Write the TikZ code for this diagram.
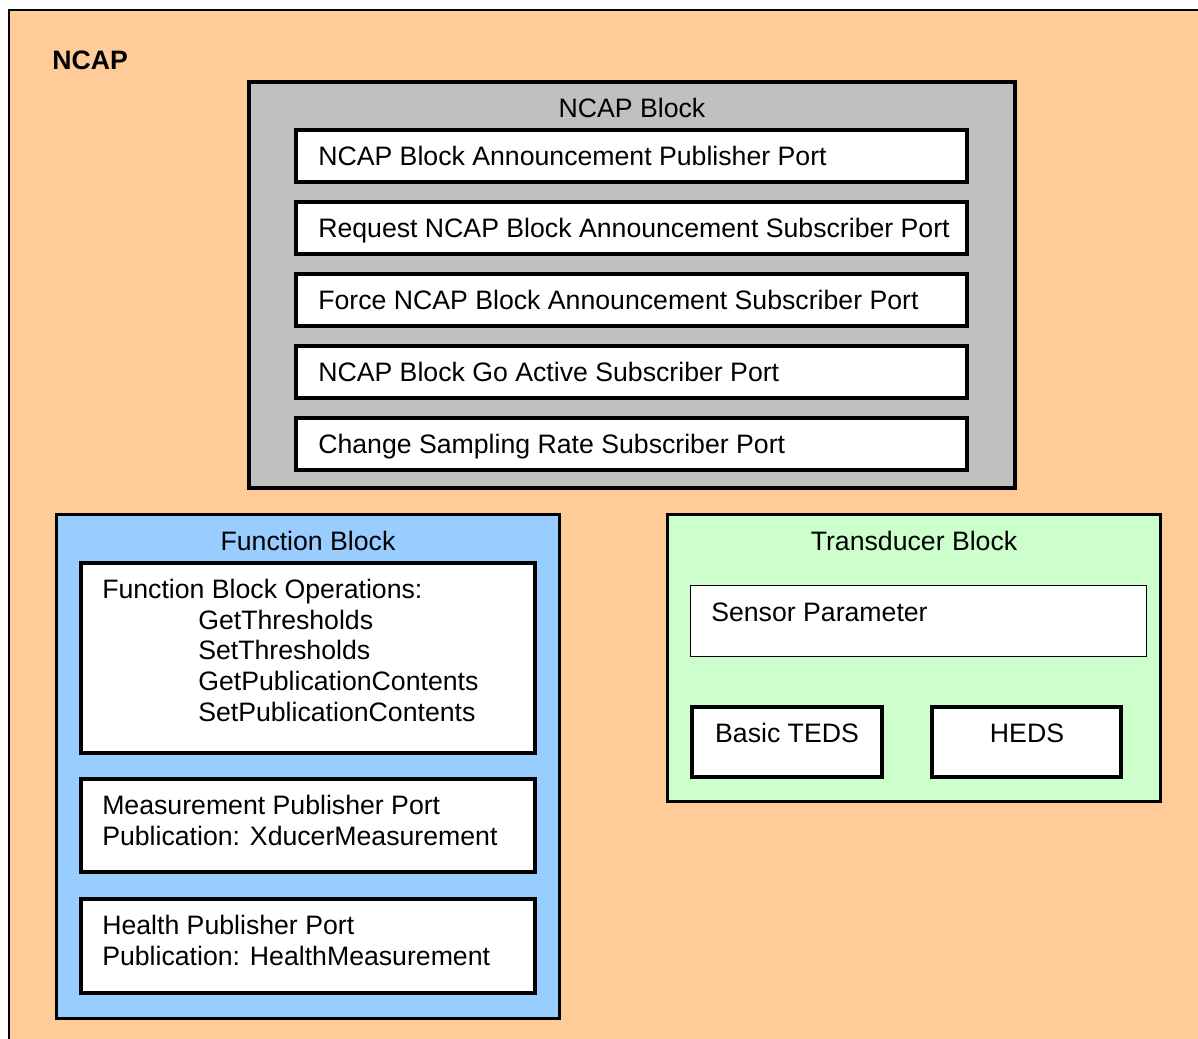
\documentclass[tikz,border=0pt]{standalone}
\usepackage{fontspec}
\setmainfont{Liberation Sans}
\usepackage{xcolor}
\usepackage{tikz}
\usetikzlibrary{positioning}

\definecolor{ncapfill}{HTML}{FFCC99}
\definecolor{blkgray}{HTML}{C0C0C0}
\definecolor{funblue}{HTML}{99CCFF}
\definecolor{xdcgreen}{HTML}{CCFFCC}

\begin{document}
\begin{tikzpicture}[
    x=0.75pt, y=-0.75pt,
    font=\fontsize{20}{23}\selectfont,
    blk/.style={draw, line width=2.25pt, anchor=north west, inner sep=0pt},
    port/.style={draw, line width=3pt, fill=white, anchor=north west,
        inner sep=0pt, minimum width=503.25pt, minimum height=39pt},
    pane/.style={draw, line width=3pt, fill=white, anchor=north west, inner sep=0pt},
    lbl/.style={inner sep=0pt, align=left},
    plbl/.style={lbl, text height=14.5pt, text depth=0pt}
]
    \useasboundingbox (0,0) rectangle (1198,1038);
    \clip (0,0) rectangle (1198,1038);

    % outer frame
    \node[blk, fill=ncapfill, line width=1.5pt, minimum width=930pt, minimum height=800pt] (ncap) at (8,9) {};
    \node[lbl, anchor=west, font=\fontsize{20}{23}\selectfont\bfseries] (ncapT) at (52,60) {NCAP};

    % NCAP block and its ports
    \node[blk, fill=blkgray, line width=3pt, minimum width=574.5pt, minimum height=304.5pt] (ncapblk) at (247,80) {};
    \node[lbl] (ncapblkT) at (632,108) {NCAP Block};
    \node[port] (p1) at (294,128) {};
    \node[port] (p2) at (294,200) {};
    \node[port] (p3) at (294,272) {};
    \node[port] (p4) at (294,344) {};
    \node[port] (p5) at (294,416) {};
    \node[plbl, right=18pt of p1.west] (p1T) {NCAP Block Announcement Publisher Port};
    \node[plbl, right=18pt of p2.west] (p2T) {Request NCAP Block Announcement Subscriber Port};
    \node[plbl, right=18pt of p3.west] (p3T) {Force NCAP Block Announcement Subscriber Port};
    \node[plbl, right=18pt of p4.west] (p4T) {NCAP Block Go Active Subscriber Port};
    \node[plbl, right=18pt of p5.west] (p5T) {Change Sampling Rate Subscriber Port};

    % function block
    \node[blk, fill=funblue, minimum width=377.25pt, minimum height=378pt] (fun) at (55,513) {};
    \node[lbl] (funT) at (308,541) {Function Block};
    \node[pane, minimum width=340.5pt, minimum height=142.5pt] (ops) at (79,561) {};
    \node[lbl, anchor=north west] (opsT) at (102,579) {Function Block Operations:\\
        \hspace*{72pt}GetThresholds\\
        \hspace*{72pt}SetThresholds\\
        \hspace*{72pt}GetPublicationContents\\
        \hspace*{72pt}SetPublicationContents};
    \node[pane, minimum width=340.5pt, minimum height=69.75pt] (meas) at (79,777) {};
    \node[lbl, anchor=north west] (measT) at (102,795) {Measurement Publisher Port\\Publication: XducerMeasurement};
    \node[pane, minimum width=340.5pt, minimum height=70.5pt] (hlth) at (79,897) {};
    \node[lbl, anchor=north west] (hlthT) at (102,915) {Health Publisher Port\\Publication: HealthMeasurement};

    % transducer block
    \node[blk, fill=xdcgreen, minimum width=369.75pt, minimum height=215.25pt] (xdc) at (666,513) {};
    \node[lbl] (xdcT) at (914,541) {Transducer Block};
    \node[pane, line width=0.75pt, minimum width=342pt, minimum height=53.25pt] (sens) at (690,585) {};
    \node[lbl, anchor=west] (sensT) at (711,612) {Sensor Parameter};
    \node[pane, minimum width=142.5pt, minimum height=52.5pt] (teds) at (690,705) {};
    \node[lbl] (tedsT) at (787,733) {Basic TEDS};
    \node[pane, minimum width=141.75pt, minimum height=52.5pt] (heds) at (930,705) {};
    \node[lbl] (hedsT) at (1027,733) {HEDS};
\end{tikzpicture}
\end{document}
